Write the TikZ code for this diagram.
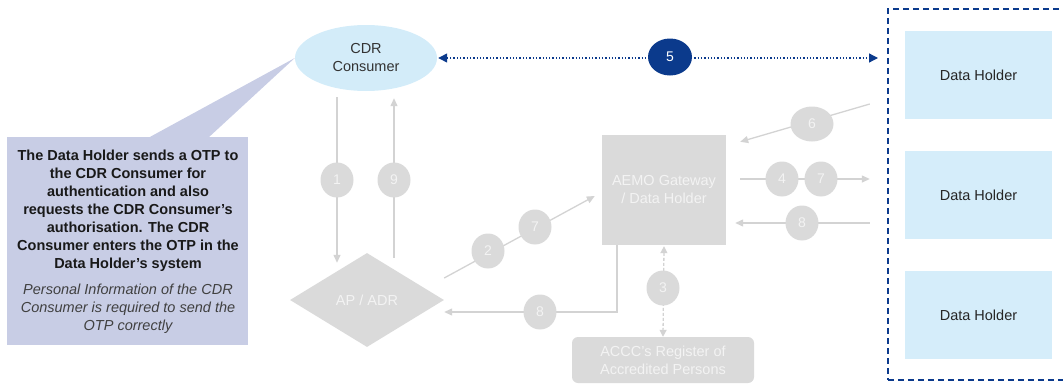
\documentclass[tikz,border=0pt]{standalone}
\usepackage{fontspec}
\setmainfont{Liberation Sans}
\usetikzlibrary{shapes.geometric,arrows.meta}
\definecolor{greyfill}{HTML}{DADADA}
\definecolor{greyline}{HTML}{D3D3D3}
\definecolor{greytext}{HTML}{F3F3F3}
\definecolor{consumerblue}{HTML}{D3ECF9}
\definecolor{holderblue}{HTML}{D5EDFA}
\definecolor{navy}{HTML}{0B3A8C}
\definecolor{calloutfill}{HTML}{C8CDE5}
\begin{document}
\begin{tikzpicture}[x=1pt,y=-1pt,
  every node/.style={inner sep=0pt, font=\fontsize{14.5}{18}\selectfont},
  greynode/.style={fill=greyfill, text=greytext},
  stepnum/.style={ellipse, fill=greyfill, text=greytext, minimum width=33pt,
    minimum height=35pt, font=\fontsize{14}{14}\selectfont},
  navynum/.style={stepnum, fill=navy, text=white, minimum width=44pt, minimum height=37pt},
  holderbox/.style={fill=holderblue, text=black!85, minimum width=147pt, minimum height=88pt},
  flow/.style={draw=greyline, line width=1.3pt, -{Triangle[length=8pt,width=7pt]}},
  linkflow/.style={draw=navy, line width=1.3pt, dotted,
    {Triangle[length=9pt,width=9pt]}-{Triangle[length=9pt,width=9pt]}},
  checkflow/.style={draw=greyline, line width=1.3pt, dash pattern=on 3pt off 2pt,
    {Triangle[length=7pt,width=7pt]}-{Triangle[length=7pt,width=7pt]}}
]
\useasboundingbox (0,0) rectangle (1063,383);
\clip (0,0) rectangle (1063,383);

% main participants
\node[ellipse, fill=consumerblue, text=black!80, minimum width=142pt,
  minimum height=66pt, align=center] (cdr) at (366,58) {CDR\\Consumer};
\node[diamond, greynode, minimum width=154pt, minimum height=94pt] (apadr) at (367,300) {AP / ADR};
\node[greynode, minimum width=124pt, minimum height=110pt, align=center] (aemo) at (664,190)
  {AEMO Gateway\\/ Data Holder};
\node[greynode, rounded corners=6pt, minimum width=182pt, minimum height=46pt, align=center]
  (accc) at (663,360) {ACCC's Register of\\Accredited Persons};

% data holders inside the dashed group
\node[draw=navy, line width=1.8pt, dash pattern=on 6pt off 4pt, minimum width=200pt,
  minimum height=371pt, anchor=north west] (holders) at (887,8) {};
\node[holderbox] (dh1) at (978.5,75) {Data Holder};
\node[holderbox] (dh2) at (978.5,195) {Data Holder};
\node[holderbox] (dh3) at (978.5,315) {Data Holder};

% callout
\fill[calloutfill] (148,138) -- (cdr.west) -- (208,138) -- cycle;
\node[fill=calloutfill, minimum width=241pt, minimum height=208pt, anchor=north west]
  (note) at (7,137) {};
\node[align=center, font=\bfseries\fontsize{14.5}{18}\selectfont, text=black!90] (notehead)
  at (128,211) {The Data Holder sends a OTP to\\the CDR Consumer for\\authentication and also\\
  requests the CDR Consumer’s\\authorisation. The CDR\\Consumer enters the OTP in the\\
  Data Holder’s system};
\node[align=center, font=\itshape\fontsize{14.5}{18}\selectfont, text=black!75] (notebody)
  at (128,309) {Personal Information of the CDR\\Consumer is required to send the\\OTP correctly};

% connectors
\draw[flow] ([xshift=-29pt,yshift=-6pt]cdr.south) -- ([xshift=-30pt,yshift=-10pt]apadr.north);
\draw[flow] ([xshift=27pt,yshift=-5pt]apadr.north) -- ([xshift=28pt,yshift=-7pt]cdr.south);
\draw[flow] ([yshift=22pt]apadr.east) -- ([xshift=-7pt,yshift=-6pt]aemo.west);
\draw[flow] ([xshift=-47pt]aemo.south) |- ([yshift=-12pt]apadr.east);
\draw[checkflow] ([yshift=-1pt]aemo.south) -- (accc.north);
\draw[flow] ([xshift=-35pt,yshift=-29pt]dh1.west) -- ([xshift=14pt,yshift=-7pt]aemo.north east);
\draw[flow] ([xshift=14pt,yshift=11pt]aemo.east) -- ([xshift=-35pt,yshift=16pt]dh2.west);
\draw[flow] ([xshift=-35pt,yshift=-28pt]dh2.west) -- ([xshift=9pt,yshift=-33pt]aemo.east);
\draw[linkflow, shorten <=1pt, shorten >=9pt] (cdr.east) -- (cdr.east -| holders.west);

% step numbers
\node[stepnum] (s1) at (337,180) {1};
\node[stepnum] (s9) at (394,180) {9};
\node[stepnum] (s2) at (488,251) {2};
\node[stepnum] (s7a) at (535,227) {7};
\node[stepnum] (s8a) at (540,312) {8};
\node[stepnum] (s3) at (663,288) {3};
\node[stepnum, minimum width=43pt] (s6) at (812,124) {6};
\node[stepnum] (s4) at (782,179) {4};
\node[stepnum] (s7b) at (821,179) {7};
\node[stepnum] (s8b) at (802,223) {8};
\node[navynum] (s5) at (670,57) {5};
\end{tikzpicture}
\end{document}
